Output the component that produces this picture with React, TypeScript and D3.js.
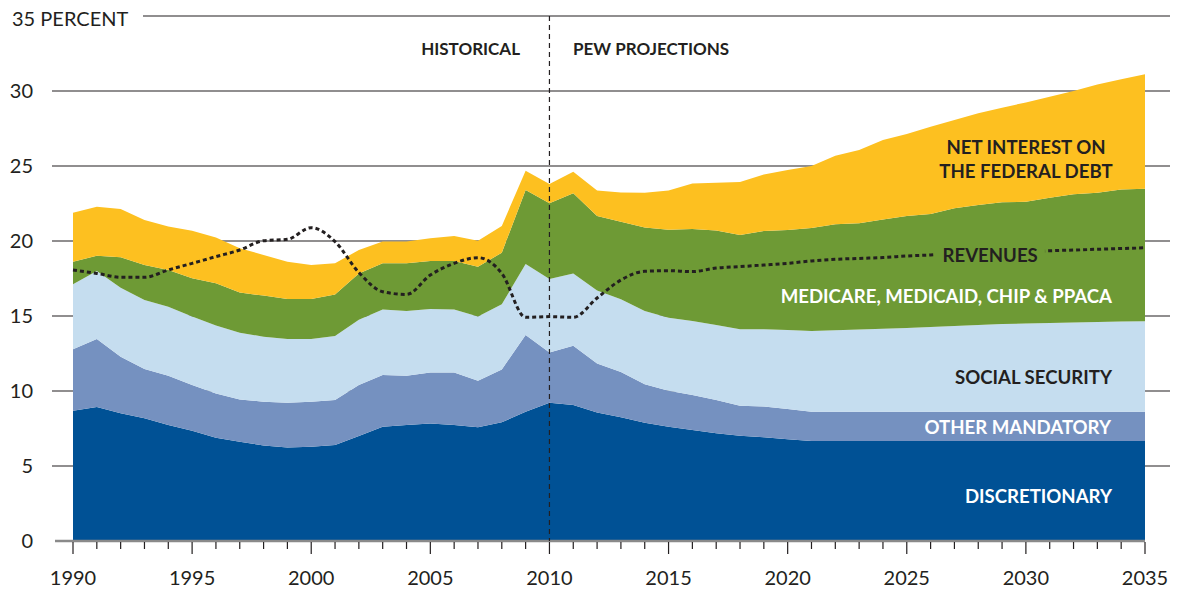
import React, { useRef, useEffect } from 'react';
import * as d3 from 'd3';

const years: number[] = d3.range(1990, 2036);

const discretionary = [8.69, 8.93, 8.51, 8.18, 7.73, 7.35, 6.89, 6.62, 6.36, 6.24, 6.29, 6.40, 7.00, 7.62, 7.73, 7.84, 7.73, 7.58, 7.91, 8.62, 9.22, 9.07, 8.56, 8.25, 7.88, 7.62, 7.40, 7.18, 7.02, 6.91, 6.78, 6.67, 6.67, 6.67, 6.67, 6.67, 6.67, 6.67, 6.67, 6.67, 6.67, 6.67, 6.67, 6.67, 6.67, 6.67];
const otherMandatory = [4.09, 4.54, 3.78, 3.29, 3.29, 3.05, 2.95, 2.82, 2.93, 2.98, 3.00, 3.00, 3.40, 3.45, 3.29, 3.40, 3.51, 3.11, 3.53, 5.11, 3.34, 3.95, 3.28, 3.02, 2.57, 2.40, 2.33, 2.22, 2.00, 2.05, 2.02, 1.95, 1.95, 1.95, 1.95, 1.95, 1.95, 1.95, 1.95, 1.95, 1.95, 1.95, 1.95, 1.95, 1.95, 1.95];
const socialSecurity = [4.33, 4.53, 4.60, 4.60, 4.60, 4.56, 4.52, 4.45, 4.33, 4.25, 4.18, 4.27, 4.35, 4.37, 4.31, 4.23, 4.20, 4.27, 4.34, 4.74, 4.91, 4.82, 4.86, 4.85, 4.88, 4.87, 4.94, 5.00, 5.09, 5.15, 5.27, 5.38, 5.43, 5.48, 5.53, 5.58, 5.65, 5.71, 5.78, 5.85, 5.88, 5.91, 5.95, 5.98, 6.01, 6.03];
const healthCare = [1.51, 1.02, 2.02, 2.33, 2.45, 2.55, 2.82, 2.67, 2.74, 2.66, 2.66, 2.77, 3.09, 3.07, 3.18, 3.20, 3.23, 3.33, 3.44, 4.93, 5.04, 5.34, 4.97, 5.17, 5.57, 5.86, 6.13, 6.30, 6.29, 6.56, 6.66, 6.86, 7.06, 7.08, 7.29, 7.47, 7.53, 7.85, 8.00, 8.11, 8.12, 8.36, 8.54, 8.62, 8.81, 8.84];
const netInterest = [3.27, 3.27, 3.22, 3.00, 2.89, 3.18, 3.06, 2.95, 2.71, 2.49, 2.27, 2.07, 1.56, 1.45, 1.45, 1.51, 1.66, 1.73, 1.78, 1.29, 1.29, 1.44, 1.69, 1.95, 2.32, 2.61, 3.04, 3.19, 3.53, 3.77, 4.00, 4.14, 4.58, 4.89, 5.29, 5.46, 5.82, 5.89, 6.11, 6.31, 6.62, 6.73, 6.89, 7.22, 7.34, 7.62];
const revenues = [18.07, 17.84, 17.58, 17.58, 18.07, 18.51, 18.96, 19.40, 20.02, 20.11, 20.89, 19.96, 17.90, 16.62, 16.44, 17.73, 18.51, 18.89, 17.84, 14.91, 14.96, 14.91, 16.20, 17.40, 17.98, 18.02, 17.96, 18.20, 18.29, 18.40, 18.51, 18.67, 18.78, 18.84, 18.90, 19.00, 19.07, 19.18, 19.22, 19.27, 19.30, 19.35, 19.40, 19.45, 19.50, 19.55];

const yTicks = [0, 5, 10, 15, 20, 25, 30];
const xLabelYears = [1990, 1995, 2000, 2005, 2010, 2015, 2020, 2025, 2030, 2035];
const splitYear = 2010;

const keys = ['discretionary', 'otherMandatory', 'socialSecurity', 'healthCare', 'netInterest'];
const colors: Record<string, string> = {
    discretionary: '#005195',
    otherMandatory: '#7591c0',
    socialSecurity: '#c5ddef',
    healthCare: '#6e9a35',
    netInterest: '#fdc020',
};

const FONT = 'Lato, "DejaVu Sans", sans-serif';
const INK = '#231f20';

const App: React.FC = () => {
    const ref = useRef<SVGSVGElement | null>(null);

    useEffect(() => {
        if (!ref.current) return;
        const width = 1178;
        const height = 590;

        const svg = d3.select(ref.current)
            .attr('width', width)
            .attr('height', height);
        svg.selectAll('*').remove();

        const x = d3.scaleLinear().domain([1990, 2035]).range([73, 1145]);
        const y = d3.scaleLinear().domain([0, 35]).range([541, 16]);

        const rows = years.map((yr, i) => ({
            year: yr,
            discretionary: discretionary[i],
            otherMandatory: otherMandatory[i],
            socialSecurity: socialSecurity[i],
            healthCare: healthCare[i],
            netInterest: netInterest[i],
        }));

        // gridlines
        svg.append('g')
            .selectAll('line')
            .data(yTicks.filter(t => t > 0))
            .join('line')
            .attr('x1', 52)
            .attr('x2', 1170)
            .attr('y1', d => y(d))
            .attr('y2', d => y(d))
            .attr('stroke', INK)
            .attr('stroke-width', 1.1);
        svg.append('line')
            .attr('x1', 143).attr('x2', 1170)
            .attr('y1', y(35)).attr('y2', y(35))
            .attr('stroke', INK).attr('stroke-width', 1.1);

        // stacked areas
        const stack = d3.stack<any>().keys(keys);
        const series = stack(rows);
        const area = d3.area<any>()
            .x(d => x(d.data.year))
            .y0(d => y(d[0]))
            .y1(d => y(d[1]));
        svg.append('g')
            .selectAll('path')
            .data(series)
            .join('path')
            .attr('d', d => area(d) as string)
            .attr('fill', d => colors[d.key]);

        // baseline axis
        svg.append('line')
            .attr('x1', 55).attr('x2', x(2035))
            .attr('y1', y(0)).attr('y2', y(0))
            .attr('stroke', '#8a8a8a').attr('stroke-width', 2.5);

        const xAxis = svg.append('g').attr('transform', `translate(0,${y(0)})`);
        xAxis.selectAll('line')
            .data(years)
            .join('line')
            .attr('x1', d => x(d)).attr('x2', d => x(d))
            .attr('y1', 1)
            .attr('y2', d => (d % 5 === 0 ? 13 : 8))
            .attr('stroke', INK)
            .attr('stroke-width', 1.2);
        xAxis.selectAll('text')
            .data(xLabelYears)
            .join('text')
            .attr('x', d => x(d))
            .attr('y', 44)
            .attr('text-anchor', 'middle')
            .attr('font-family', FONT)
            .attr('font-size', 20)
            .attr('fill', INK)
            .text(d => d);

        // y labels
        svg.append('g')
            .selectAll('text')
            .data(yTicks)
            .join('text')
            .attr('x', 33)
            .attr('y', d => y(d) + 7)
            .attr('text-anchor', 'end')
            .attr('font-family', FONT)
            .attr('font-size', 20)
            .attr('fill', INK)
            .text(d => d);
        svg.append('text')
            .attr('x', 12).attr('y', 26)
            .attr('font-family', FONT)
            .attr('font-size', 20)
            .attr('fill', INK)
            .text('35 PERCENT');

        // revenues line with gap for its label
        const defs = svg.append('defs');
        const mask = defs.append('mask').attr('id', 'revMask');
        mask.append('rect').attr('x', 0).attr('y', 0).attr('width', width).attr('height', height).attr('fill', 'white');
        mask.append('rect')
            .attr('x', x(2026.2)).attr('width', x(2030.8) - x(2026.2))
            .attr('y', y(20.5)).attr('height', y(18) - y(20.5))
            .attr('fill', 'black');

        const line = d3.line<number>()
            .x((_, i) => x(years[i]))
            .y(d => y(d))
            .curve(d3.curveMonotoneX);
        svg.append('path')
            .attr('d', line(revenues) as string)
            .attr('fill', 'none')
            .attr('stroke', INK)
            .attr('stroke-width', 3)
            .attr('stroke-dasharray', '4 3')
            .attr('mask', 'url(#revMask)');

        // historical / projection divider
        svg.append('line')
            .attr('x1', x(splitYear)).attr('x2', x(splitYear))
            .attr('y1', y(35)).attr('y2', y(0))
            .attr('stroke', INK)
            .attr('stroke-width', 1.2)
            .attr('stroke-dasharray', '5 4');

        const label = (txt: string, lx: number, ly: number, anchor: string, fill: string, size = 18.6) => {
            svg.append('text')
                .attr('x', lx).attr('y', ly)
                .attr('text-anchor', anchor)
                .attr('font-family', FONT)
                .attr('font-weight', 700)
                .attr('font-size', size)
                .attr('fill', fill)
                .text(txt);
        };

        label('HISTORICAL', 520, 55, 'end', INK, 17);
        label('PEW PROJECTIONS', 573, 55, 'start', INK, 17);
        label('NET INTEREST ON', 1026, 154, 'middle', INK);
        label('THE FEDERAL DEBT', 1026, 178, 'middle', INK);
        label('REVENUES', x(2028.5), 262, 'middle', INK);
        label('MEDICARE, MEDICAID, CHIP & PPACA', 1112, 303, 'end', '#ffffff');
        label('SOCIAL SECURITY', 1112, 384, 'end', INK);
        label('OTHER MANDATORY', 1111, 434, 'end', '#ffffff');
        label('DISCRETIONARY', 1112, 503, 'end', '#ffffff');
    }, []);

    return (
        <div style={{ position: 'absolute', left: 0, top: 0 }}>
            <svg ref={ref} style={{ display: 'block' }} />
        </div>
    );
};

export default App;
